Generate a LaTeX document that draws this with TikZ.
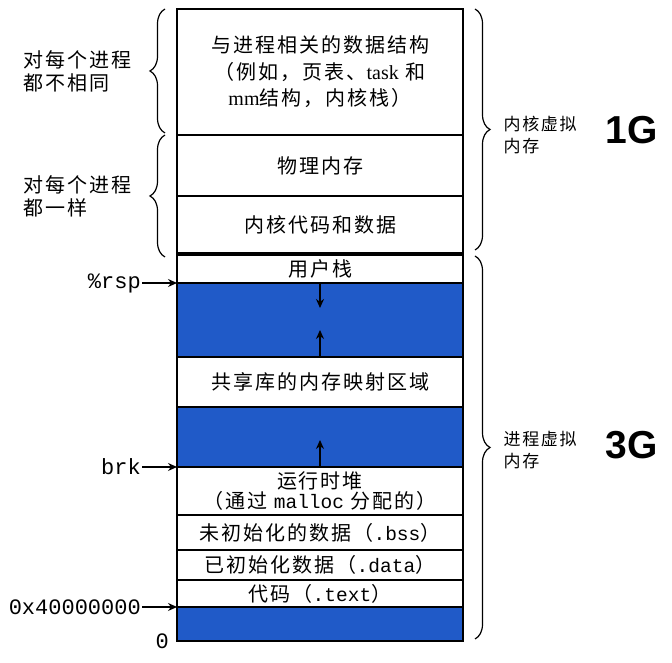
\documentclass[tikz,border=0pt]{standalone}
\usepackage{fontspec}
\setmainfont{Noto Sans CJK SC}[LetterSpace=10]
\setmonofont{Liberation Mono}
\newfontfamily\latinserif{Liberation Serif}
\newfontfamily\bigsans{Liberation Sans}
\usepackage{tikz}
\usetikzlibrary{arrows.meta, positioning, decorations.pathreplacing}
\definecolor{gapblue}{RGB}{32,90,200}
\newcommand{\ttcode}[1]{{\ttfamily\fontsize{19.5pt}{20pt}\selectfont #1}}

\begin{document}
\begin{tikzpicture}[
    x=1pt, y=1pt,
    >={Stealth[length=9pt, width=8pt]},
    seg/.style={draw, line width=1.6pt, minimum width=286pt, inner sep=0pt, outer sep=0pt,
        align=center, font=\fontsize{20pt}{26.5pt}\selectfont},
    gap/.style={seg, fill=gapblue},
    lbl/.style={inner sep=1pt, font=\ttfamily\fontsize{22pt}{23pt}\selectfont},
    side/.style={inner sep=0pt, align=left, font=\fontsize{20pt}{23pt}\selectfont},
    brc/.style={decorate, decoration={brace, amplitude=15pt}, line width=1.2pt},
    ptr/.style={->, line width=1.2pt},
    growarrow/.style={->, line width=1.5pt},
    gig/.style={font=\bigsans\bfseries\fontsize{39pt}{40pt}\selectfont},
]
    \useasboundingbox (0,0) rectangle (672,663);

    % Kernel part
    \node[seg, anchor=north, minimum height=126pt] (perproc) at (320,654)
        {与进程相关的数据结构\\（例如，页表、{\latinserif task} 和\\{\latinserif mm}结构，内核栈）};
    \node[seg, below=0pt of perproc, minimum height=61pt] (physmem) {物理内存};
    \node[seg, below=0pt of physmem, minimum height=58pt] (kdata) {内核代码和数据};

    % Process part
    \node[seg, below=0pt of kdata, minimum height=29pt] (stack) {用户栈};
    \node[gap, below=0pt of stack, minimum height=74pt] (gapA) {};
    \node[seg, below=0pt of gapA, minimum height=50pt] (shlib) {共享库的内存映射区域};
    \node[gap, below=0pt of shlib, minimum height=60pt] (gapB) {};
    \node[seg, below=0pt of gapB, minimum height=48pt, font=\fontsize{20pt}{20pt}\selectfont] (heap)
        {运行时堆\\（通过 \ttcode{malloc} 分配的）};
    \node[seg, below=0pt of heap, minimum height=35pt] (bss) {未初始化的数据（\ttcode{.bss}）};
    \node[seg, below=0pt of bss, minimum height=30pt] (idata) {已初始化数据（\ttcode{.data}）};
    \node[seg, below=0pt of idata, minimum height=27pt] (codeseg) {代码（\ttcode{.text}）};
    \node[gap, below=0pt of codeseg, minimum height=34pt] (gapC) {};

    % Kernel / user boundary
    \draw[line width=4pt] (kdata.south west) -- (kdata.south east);

    % Growth arrows
    \coordinate[below=25pt of gapA.north] (stackgrow);
    \coordinate[above=27pt of gapA.south] (mmapgrow);
    \coordinate[above=27pt of gapB.south] (heapgrow);
    \draw[growarrow] (gapA.north) -- (stackgrow);
    \draw[growarrow] (gapA.south) -- (mmapgrow);
    \draw[growarrow] (gapB.south) -- (heapgrow);

    % Address labels
    \node[lbl, left=35pt of gapA.north west] (rsp) {\%rsp};
    \node[lbl, left=35pt of gapB.south west] (brk) {brk};
    \node[lbl, left=35pt of gapC.north west] (textbase) {0x40000000};
    \node[lbl, left=7pt of gapC.south west] (zero) {0};
    \draw[ptr] (rsp) -- (gapA.north west);
    \draw[ptr] (brk) -- (gapB.south west);
    \draw[ptr] (textbase) -- (gapC.north west);

    % Left braces
    \draw[brc] ([xshift=-12pt, yshift=2pt]perproc.south west) -- ([xshift=-12pt]perproc.north west)
        node[midway, left=33pt, side] (diffproc) {对每个进程\\都不相同};
    \draw[brc] ([xshift=-12pt, yshift=-3pt]kdata.south west) -- ([xshift=-12pt]physmem.north west)
        node[midway, left=33pt, side] (sameproc) {对每个进程\\都一样};

    % Right braces
    \draw[brc] ([xshift=12pt]perproc.north east) -- ([xshift=12pt, yshift=4pt]kdata.south east)
        node[midway, right=28pt, yshift=-6pt, side, font=\fontsize{17pt}{22pt}\selectfont] (kvm) {内核虚拟\\内存};
    \draw[brc] ([xshift=12pt, yshift=-2pt]stack.north east) -- ([xshift=12pt, yshift=2pt]gapC.south east)
        node[midway, right=28pt, yshift=-3pt, side, font=\fontsize{17pt}{22pt}\selectfont] (pvm) {进程虚拟\\内存};

    % Sizes
    \node[gig] (onegig) at (632,533) {1G};
    \node[gig] (threegig) at (632,218) {3G};
\end{tikzpicture}
\end{document}
